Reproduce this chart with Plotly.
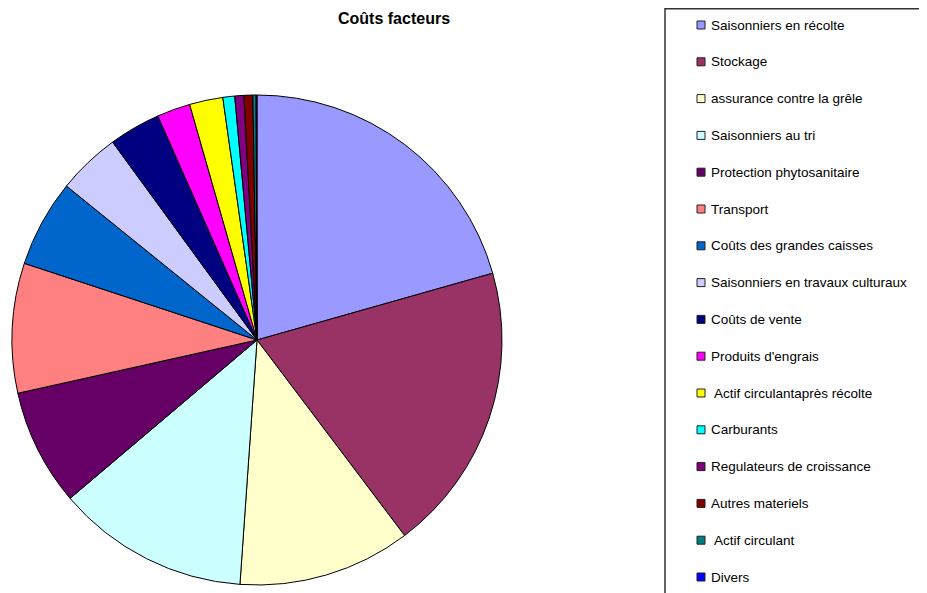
import plotly.graph_objects as go

# The page body has an 8px margin, so the figure is placed 8px in and sized to fit.
OFF = 8
W, H = 927 - OFF, 593 - OFF

labels = [
    "Saisonniers en récolte", "Stockage", "assurance contre la grêle",
    "Saisonniers au tri", "Protection phytosanitaire", "Transport",
    "Coûts des grandes caisses", "Saisonniers en travaux culturaux",
    "Coûts de vente", "Produits d'engrais", " Actif circulantaprès récolte",
    "Carburants", "Regulateurs de croissance", "Autres materiels",
    " Actif circulant", "Divers",
]
values = [20.6, 19.1, 11.4, 12.7, 7.7, 8.55, 5.75, 4.15, 3.4, 2.2, 2.2,
          0.78, 0.6, 0.58, 0.21, 0.06]
colors = ["#9999FF", "#993366", "#FFFFCC", "#CCFFFF", "#660066", "#FF8080",
          "#0066CC", "#CCCCFF", "#000080", "#FF00FF", "#FFFF00", "#00FFFF",
          "#800080", "#800000", "#008080", "#0000FF"]
title = "Coûts facteurs"

# pie geometry in page pixels
cx, cy, r = 257, 340, 245

def px(x):
    return (x - OFF) / W

def py(y):
    return 1 - (y - OFF) / H

fig = go.Figure(go.Pie(
    labels=labels, values=values, sort=False, direction="clockwise",
    rotation=0, textinfo="none", hoverinfo="label+percent",
    marker=dict(colors=colors, line=dict(color="#000000", width=1)),
    domain=dict(x=[px(cx - r), px(cx + r)], y=[py(cy + r), py(cy - r)]),
    showlegend=False,
))

shapes = [dict(type="rect", xref="paper", yref="paper",
               x0=px(665), x1=px(940), y0=py(8.8), y1=py(605),
               line=dict(color="#333333", width=1.5), fillcolor="rgba(0,0,0,0)")]
annotations = [dict(text="<b>%s</b>" % title, xref="paper", yref="paper",
                    x=px(394), y=py(18), xanchor="center", yanchor="middle",
                    showarrow=False,
                    font=dict(family="Liberation Sans, Arial", size=16, color="#000000"))]

y0, step = 25, 36.8
for i, (lab, col) in enumerate(zip(labels, colors)):
    yc = y0 + i * step
    shapes.append(dict(type="rect", xref="paper", yref="paper",
                       x0=px(697), x1=px(705), y0=py(yc + 4), y1=py(yc - 4),
                       line=dict(color="#222222", width=1), fillcolor=col))
    annotations.append(dict(text=lab, xref="paper", yref="paper",
                            x=px(709), y=py(yc), xanchor="left", yanchor="middle",
                            showarrow=False,
                            font=dict(family="Liberation Sans, Arial", size=13.5,
                                      color="#000000")))

fig.update_layout(
    width=W, height=H, margin=dict(l=0, r=0, t=0, b=0),
    paper_bgcolor="#FFFFFF", plot_bgcolor="#FFFFFF",
    shapes=shapes, annotations=annotations,
)

fig.write_html("out.html")
